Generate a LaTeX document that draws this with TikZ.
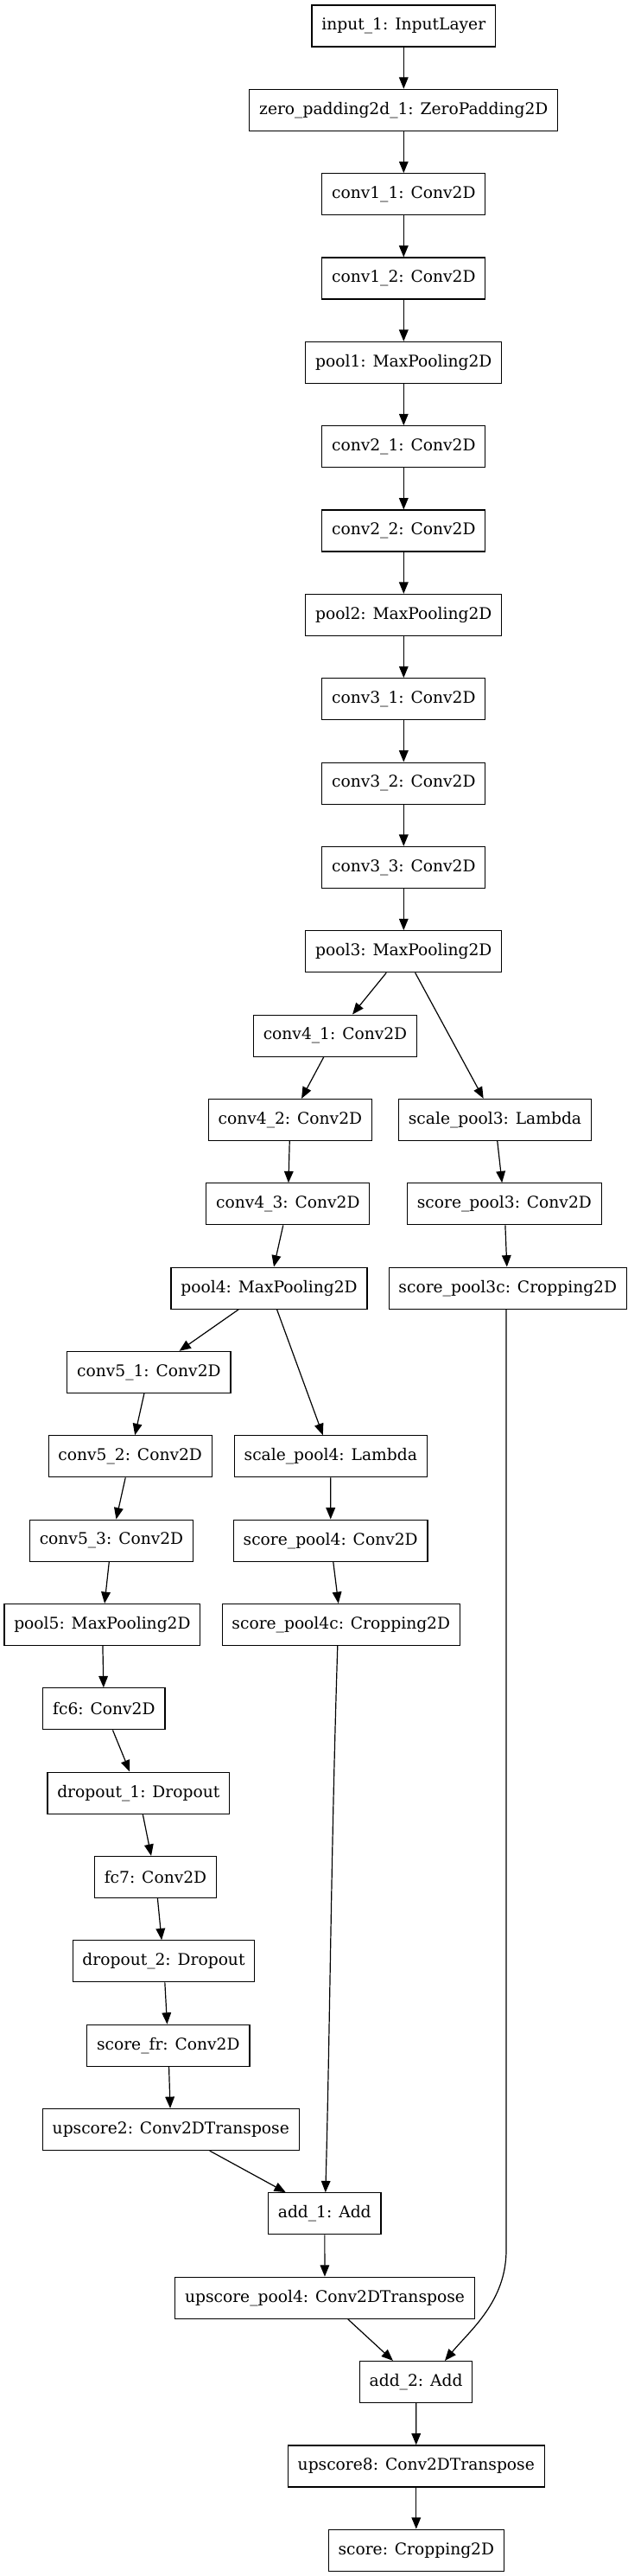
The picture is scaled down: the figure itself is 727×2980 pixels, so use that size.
\documentclass[tikz,border=0pt]{standalone}
\usepackage{fontspec}
\setmainfont{DejaVu Serif}
\usepackage{tikz}
\usetikzlibrary{arrows.meta,calc}

\begin{document}
\begin{tikzpicture}[x=0.75pt,y=-0.75pt,
    layer/.style={draw,rectangle,line width=0.9pt,minimum height=36pt,inner xsep=8.5pt,inner ysep=0pt,font=\fontsize{14}{16}\selectfont},
    edge/.style={line width=0.9pt,-{Triangle[length=10pt,width=8pt]}}]
    \useasboundingbox (0,0) rectangle (727,2980);

    % Trunk
    \node[layer] (input) at (467.3,30) {input\_1: InputLayer};
    \node[layer] (zpad) at (467.3,127.3) {zero\_padding2d\_1: ZeroPadding2D};
    \node[layer] (conv11) at (467.3,224.7) {conv1\_1: Conv2D};
    \node[layer] (conv12) at (467.3,322) {conv1\_2: Conv2D};
    \node[layer] (pool1) at (467.3,419.4) {pool1: MaxPooling2D};
    \node[layer] (conv21) at (467.3,516.7) {conv2\_1: Conv2D};
    \node[layer] (conv22) at (467.3,614) {conv2\_2: Conv2D};
    \node[layer] (pool2) at (467.3,711.4) {pool2: MaxPooling2D};
    \node[layer] (conv31) at (467.3,808.7) {conv3\_1: Conv2D};
    \node[layer] (conv32) at (467.3,906.1) {conv3\_2: Conv2D};
    \node[layer] (conv33) at (467.3,1003.4) {conv3\_3: Conv2D};
    \node[layer] (pool3) at (467.3,1100.7) {pool3: MaxPooling2D};

    % pool3 branches
    \node[layer] (conv41) at (388,1198.1) {conv4\_1: Conv2D};
    \node[layer] (conv42) at (335.9,1295.4) {conv4\_2: Conv2D};
    \node[layer] (scalep3) at (573,1295.4) {scale\_pool3: Lambda};
    \node[layer] (conv43) at (333.3,1392.8) {conv4\_3: Conv2D};
    \node[layer] (scorep3) at (583.9,1392.8) {score\_pool3: Conv2D};
    \node[layer] (pool4) at (311.5,1490.1) {pool4: MaxPooling2D};
    \node[layer] (scorep3c) at (587.8,1490.1) {score\_pool3c: Cropping2D};

    % pool4 branches
    \node[layer] (conv51) at (172.4,1587.4) {conv5\_1: Conv2D};
    \node[layer] (conv52) at (150.7,1684.8) {conv5\_2: Conv2D};
    \node[layer] (scalep4) at (382.8,1684.8) {scale\_pool4: Lambda};
    \node[layer] (conv53) at (129,1782.1) {conv5\_3: Conv2D};
    \node[layer] (scorep4) at (382.7,1782.1) {score\_pool4: Conv2D};
    \node[layer] (pool5) at (118.4,1879.5) {pool5: MaxPooling2D};
    \node[layer] (scorep4c) at (394.8,1879.5) {score\_pool4c: Cropping2D};
    \node[layer] (fc6) at (120.4,1976.8) {fc6: Conv2D};
    \node[layer] (drop1) at (160.3,2074.1) {dropout\_1: Dropout};
    \node[layer] (fc7) at (180,2171.5) {fc7: Conv2D};
    \node[layer] (drop2) at (189.5,2268.8) {dropout\_2: Dropout};
    \node[layer] (scorefr) at (194.8,2366.2) {score\_fr: Conv2D};
    \node[layer] (up2) at (197.8,2463.5) {upscore2: Conv2DTranspose};

    % Fusion
    \node[layer] (add1) at (375.8,2560.8) {add\_1: Add};
    \node[layer] (uppool4) at (376,2658.2) {upscore\_pool4: Conv2DTranspose};
    \node[layer] (add2) at (481.6,2755.5) {add\_2: Add};
    \node[layer] (up8) at (481.8,2852.9) {upscore8: Conv2DTranspose};
    \node[layer] (score) at (481.8,2950.2) {score: Cropping2D};

    % Edges
    \foreach \a/\b in {input/zpad,zpad/conv11,conv11/conv12,conv12/pool1,pool1/conv21,
        conv21/conv22,conv22/pool2,pool2/conv31,conv31/conv32,conv32/conv33,conv33/pool3,
        pool3/conv41,pool3/scalep3,conv41/conv42,conv42/conv43,conv43/pool4,
        scalep3/scorep3,scorep3/scorep3c,pool4/conv51,pool4/scalep4,conv51/conv52,
        conv52/conv53,conv53/pool5,scalep4/scorep4,scorep4/scorep4c,pool5/fc6,
        fc6/drop1,drop1/fc7,fc7/drop2,drop2/scorefr,scorefr/up2,up2/add1,
        add1/uppool4,uppool4/add2,add2/up8,up8/score}
        \draw[edge] (\a) -- (\b);

    \draw[edge] ($(scorep4c.south)+(-4,0)$) .. controls (383,2150) and (382,2350) .. ($(add1.north)+(1,0)$);
    \coordinate (bend3) at (586,2603);
    \draw[edge] (scorep3c.south -| bend3) -- (bend3) .. controls (586,2662) and (545,2695) .. ($(add2.north)+(33.4,0)$);
\end{tikzpicture}
\end{document}
